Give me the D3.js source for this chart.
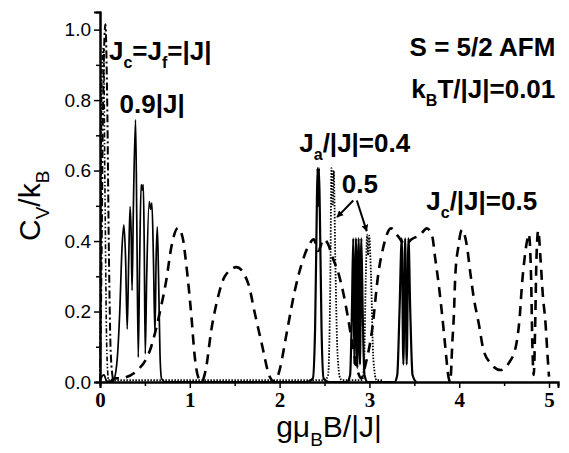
<!DOCTYPE html>
<html>
<head>
<meta charset="utf-8">
<script src="https://cdn.jsdelivr.net/npm/d3@7"></script>
<style>
  body { margin: 0; background: #fff; }
  svg { display: block; }
</style>
</head>
<body>
<div id="corpo"></div>
<script>
// ==== data ====
var xTicks = [0, 1, 2, 3, 4, 5];
var xMinor = [0.5, 1.5, 2.5, 3.5, 4.5];
var yTicks = [0.0, 0.2, 0.4, 0.6, 0.8, 1.0];
var yMinor = [0.1, 0.3, 0.5, 0.7, 0.9];

// Jc = Jf = |J| : tall peak at the origin
var peakZero = [[0, 0], [0.015, 0.3], [0.035, 0.8], [0.06, 1.015], [0.08, 0.8], [0.1, 0.35], [0.12, 0.08], [0.15, 0]];
var peakZero2 = [[0, 0], [0.01, 0.5], [0.025, 0.92], [0.04, 0.95], [0.055, 0.55], [0.075, 0.1], [0.095, 0]];

// 0.9|J| cluster (solid)
var cluster09 = [[0.0, 0.0], [0.02, 0.015], [0.045, 0.02], [0.07, 0.004], [0.10, 0], [0.15, 0.005], [0.19, 0.06],
  [0.22, 0.2], [0.245, 0.38], [0.266, 0.446], [0.285, 0.35],
  [0.303, 0.15], [0.32, 0.35], [0.335, 0.498], [0.347, 0.42], [0.357, 0.26], [0.372, 0.5], [0.396, 0.744],
  [0.41, 0.45], [0.426, 0.07], [0.442, 0.35], [0.458, 0.56], [0.47, 0.545], [0.482, 0.56], [0.492, 0.4],
  [0.504, 0.08], [0.52, 0.3], [0.548, 0.512], [0.562, 0.49], [0.578, 0.508], [0.595, 0.35], [0.612, 0.138],
  [0.625, 0.35], [0.638, 0.44], [0.652, 0.3], [0.668, 0.08], [0.685, 0.01], [0.72, 0]];

// Ja/|J| = 0.4 (solid narrow peaks)
var ja04 = [[0.72, 0], [2.30, 0], [2.37, 0.01], [2.395, 0.15], [2.412, 0.45], [2.422, 0.607], [2.43, 0.5],
  [2.438, 0.607], [2.45, 0.45], [2.467, 0.15], [2.49, 0.01], [2.55, 0],
  [2.75, 0], [2.785, 0.02], [2.805, 0.2], [2.82, 0.408], [2.832, 0.05], [2.85, 0.408],
  [2.865, 0.04], [2.88, 0.408], [2.895, 0.05], [2.91, 0.408], [2.925, 0.2], [2.945, 0.02], [2.98, 0],
  [3.28, 0], [3.31, 0.02], [3.335, 0.2], [3.36, 0.408], [3.378, 0.05], [3.398, 0.408], [3.415, 0.05], [3.435, 0.408],
  [3.455, 0.2], [3.48, 0.02], [3.52, 0]];

// Ja/|J| = 0.5 (dotted)
var ja05 = [[0.06, 0.005], [1.0, 0.005], [2.0, 0.005], [2.50, 0.005], [2.54, 0.02], [2.563, 0.25], [2.578, 0.607],
  [2.59, 0.5], [2.603, 0.6], [2.62, 0.35], [2.645, 0.08], [2.675, 0.01], [2.70, 0.005], [2.92, 0.005], [2.94, 0.05],
  [2.96, 0.3], [2.975, 0.418], [2.985, 0.36], [2.998, 0.415], [3.018, 0.3], [3.045, 0.06], [3.08, 0.005], [3.15, 0.005]];

// Jc/|J| = 0.5 (dashed)
var jc05 = [[0.12, 0.0], [0.15, 0.01], [0.236, 0.011], [0.42, 0.034], [0.57, 0.10], [0.664, 0.195], [0.739, 0.29],
  [0.795, 0.384], [0.868, 0.437], [0.92, 0.41], [0.962, 0.33], [1.018, 0.186], [1.055, 0.072], [1.092, 0.015],
  [1.13, 0.0], [1.177, 0.034], [1.24, 0.148], [1.315, 0.242], [1.39, 0.30], [1.52, 0.326], [1.65, 0.28],
  [1.724, 0.195], [1.80, 0.11], [1.89, 0.015], [1.948, 0.0], [2.0, 0.034], [2.078, 0.138], [2.17, 0.26],
  [2.26, 0.347], [2.33, 0.39], [2.38, 0.405], [2.43, 0.372], [2.49, 0.405], [2.55, 0.385], [2.58, 0.36],
  [2.655, 0.309], [2.71, 0.252], [2.766, 0.176], [2.82, 0.091], [2.87, 0.03], [2.91, 0.01], [2.95, 0.043],
  [3.03, 0.148], [3.10, 0.309], [3.156, 0.384], [3.24, 0.436], [3.32, 0.413], [3.40, 0.39], [3.47, 0.405],
  [3.566, 0.418], [3.64, 0.436], [3.70, 0.413], [3.73, 0.356], [3.77, 0.28], [3.81, 0.19], [3.845, 0.10],
  [3.88, 0.015], [3.90, 0.0], [3.925, 0.12], [3.94, 0.186], [3.956, 0.30], [3.99, 0.384], [4.03, 0.432],
  [4.087, 0.384], [4.124, 0.309], [4.16, 0.242], [4.217, 0.167], [4.27, 0.091], [4.35, 0.053], [4.46, 0.034],
  [4.55, 0.053], [4.63, 0.10], [4.674, 0.186], [4.70, 0.28], [4.73, 0.356], [4.757, 0.403], [4.775, 0.42],
  [4.80, 0.30], [4.815, 0.1], [4.83, 0.02], [4.845, 0.15], [4.86, 0.35], [4.88, 0.43], [4.905, 0.35],
  [4.93, 0.25], [4.96, 0.17], [4.985, 0.07], [5.0, 0.015]];

// arrows of the "0.5" label: [from, to] in data units
var arrows = [[[2.82, 0.515], [2.64, 0.468]], [[2.86, 0.515], [2.97, 0.428]]];

var chartWidth = 569, chartHeight = 453;
var margin = {top: 12, right: 11, bottom: 71, left: 100};
var width = chartWidth - margin.left - margin.right,
    height = chartHeight - margin.top - margin.bottom;

var x = d3.scaleLinear().domain([0, 5.1]).range([0, width]);
var y = d3.scaleLinear().domain([0, 1.05]).range([height, 0]);

var svg = d3.select("#corpo").append("svg")
    .attr("width", chartWidth)
    .attr("height", chartHeight)
    .append("g")
    .attr("transform", "translate(" + margin.left + "," + margin.top + ")");

var line = d3.line()
    .x(function(d) { return x(d[0]); })
    .y(function(d) { return y(d[1]); })
    .curve(d3.curveMonotoneX);

function drawLine(data, dash, w) {
    svg.append("path")
        .datum(data)
        .attr("fill", "none")
        .attr("stroke", "#000")
        .attr("stroke-width", w)
        .attr("stroke-dasharray", dash)
        .attr("stroke-linejoin", "round")
        .attr("d", line);
}

drawLine(ja05, "1.5,1.5", 1.8);
drawLine(jc05, "10,7", 2.6);
drawLine(cluster09, null, 1.7);
drawLine(ja04, null, 2.2);
drawLine(peakZero, "8,3,2,3", 2);
drawLine(peakZero2, "5,2,1.5,2,1.5,2", 1.6);

// axes
var xAxis = svg.append("g")
    .attr("transform", "translate(0," + height + ")")
    .call(d3.axisBottom(x).tickValues(xTicks).tickFormat(d3.format("d")).tickSize(6).tickPadding(4));
svg.append("g")
    .attr("transform", "translate(0," + height + ")")
    .call(d3.axisBottom(x).tickValues(xMinor).tickFormat("").tickSize(4));
var yAxis = svg.append("g")
    .call(d3.axisLeft(y).tickValues(yTicks).tickFormat(d3.format(".1f")).tickSize(6).tickPadding(3));
svg.append("g")
    .call(d3.axisLeft(y).tickValues(yMinor).tickFormat("").tickSize(4));

svg.selectAll(".domain").attr("stroke", "#000").attr("stroke-width", 2);
svg.selectAll(".tick line").attr("stroke", "#000").attr("stroke-width", 1.5);
xAxis.selectAll("text")
    .style("font-family", "'Liberation Serif', 'Times New Roman', serif")
    .style("font-weight", "bold")
    .style("font-size", "21px")
    .attr("fill", "#000");
yAxis.selectAll("text")
    .style("font-family", "'Liberation Sans', Arial, sans-serif")
    .style("font-size", "19px")
    .attr("fill", "#000");

// axis titles
var sans = "'Liberation Sans', Arial, sans-serif";
var xt = svg.append("text")
    .attr("x", x(2.55))
    .attr("y", height + 55)
    .attr("text-anchor", "middle")
    .style("font-family", sans)
    .style("font-size", "30px");
xt.append("tspan").text("gμ");
xt.append("tspan").attr("dy", 9).style("font-size", "19px").text("B");
xt.append("tspan").attr("dy", -9).text("B/|J|");

var yt = svg.append("text")
    .attr("transform", "translate(" + (-60) + "," + y(0.5) + ") rotate(-90)")
    .attr("text-anchor", "middle")
    .style("font-family", sans)
    .style("font-size", "30px");
yt.append("tspan").text("C");
yt.append("tspan").attr("dy", 9).style("font-size", "19px").text("V");
yt.append("tspan").attr("dy", -9).text("/k");
yt.append("tspan").attr("dy", 9).style("font-size", "19px").text("B");

// annotations: parts = [text, isSub]
function label(parts, xv, yv, anchor) {
    var t = svg.append("text")
        .attr("x", x(xv))
        .attr("y", y(yv))
        .attr("text-anchor", anchor || "start")
        .style("font-family", sans)
        .style("font-weight", "bold")
        .style("font-size", "26px");
    var sub = false;
    parts.forEach(function(p) {
        var s = t.append("tspan").text(p[0]);
        if (p[1] && !sub) { s.attr("dy", 8).style("font-size", "16px"); sub = true; }
        else if (!p[1] && sub) { s.attr("dy", -8); sub = false; }
        else if (p[1]) { s.style("font-size", "16px"); }
    });
}

label([["J"], ["c", 1], ["=J"], ["f", 1], ["=|J|"]], 0.10, 0.915);
label([["0.9|J|"]], 0.218, 0.764);
label([["S = 5/2 AFM"]], 5.07, 0.924, "end");
label([["k"], ["B", 1], ["T/|J|=0.01"]], 5.07, 0.806, "end");
label([["J"], ["a", 1], ["/|J|=0.4"]], 2.219, 0.654);
label([["0.5"]], 2.692, 0.536);
label([["J"], ["c", 1], ["/|J|=0.5"]], 3.633, 0.489);

// arrows
svg.append("defs").append("marker")
    .attr("id", "head")
    .attr("viewBox", "0 0 10 10")
    .attr("refX", 9).attr("refY", 5)
    .attr("markerWidth", 7).attr("markerHeight", 7)
    .attr("markerUnits", "userSpaceOnUse")
    .attr("orient", "auto")
    .append("path").attr("d", "M0,0L10,5L0,10Z").attr("fill", "#000");

svg.selectAll(".arrow")
    .data(arrows)
    .enter().append("line")
    .attr("class", "arrow")
    .attr("x1", function(d) { return x(d[0][0]); })
    .attr("y1", function(d) { return y(d[0][1]); })
    .attr("x2", function(d) { return x(d[1][0]); })
    .attr("y2", function(d) { return y(d[1][1]); })
    .attr("stroke", "#000")
    .attr("stroke-width", 2)
    .attr("marker-end", "url(#head)");
</script>
</body>
</html>
